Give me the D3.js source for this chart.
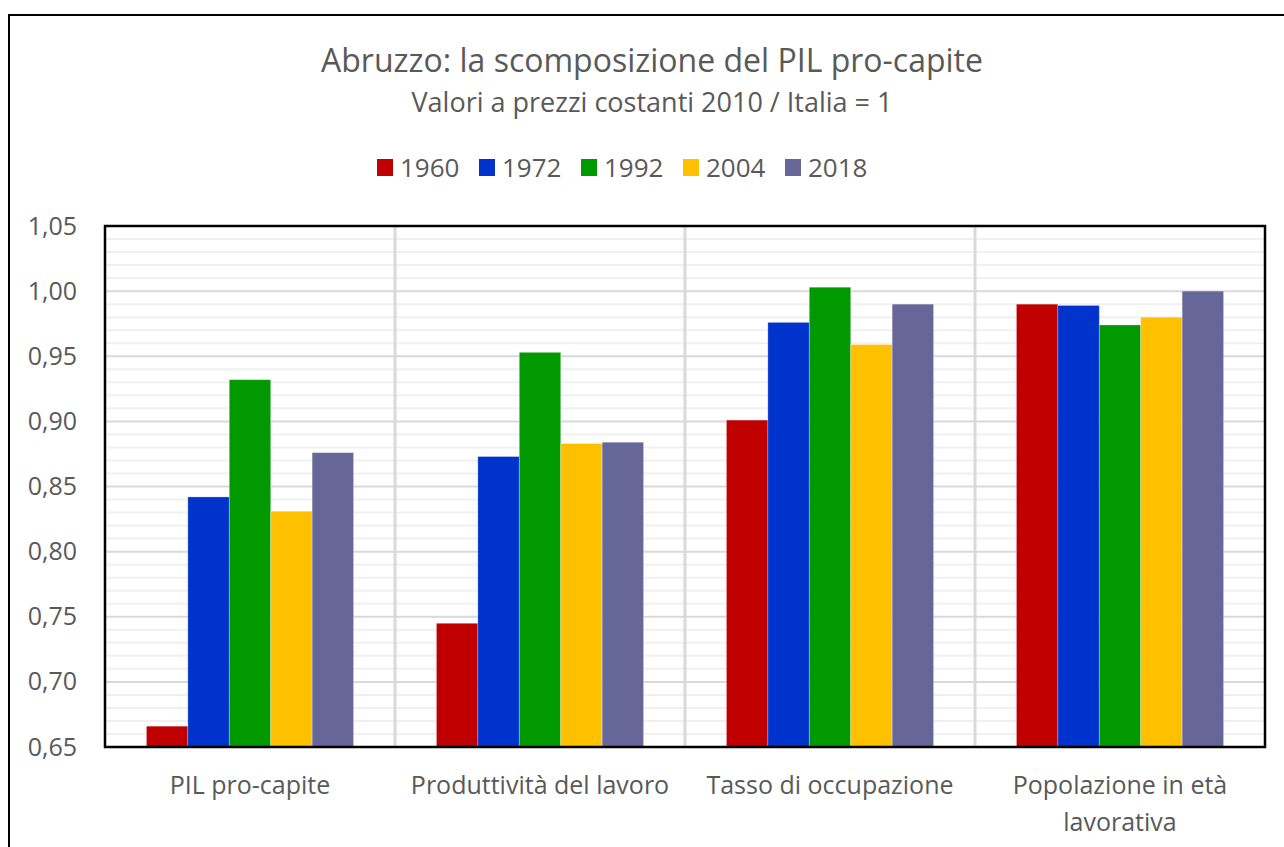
<!DOCTYPE html>
<html>
<head>
  <meta charset="utf-8">
  <style>
    body { margin: 0; background: #fff; }
    text { font-family: "Open Sans", "Noto Sans", sans-serif; fill: #595959; }
  </style>
</head>
<body>
<svg id="chart" width="1284" height="847"></svg>
<script src="https://d3js.org/d3.v7.min.js"></script>
<script>
// categories and series
var categories = ["PIL pro-capite", "Produttività del lavoro", "Tasso di occupazione", "Popolazione in età lavorativa"];
var years = ["1960", "1972", "1992", "2004", "2018"];
var colors = ["#C00000", "#0033CC", "#009900", "#FFC000", "#666699"];
var v1960 = [0.666, 0.745, 0.901, 0.990];
var v1972 = [0.842, 0.873, 0.976, 0.989];
var v1992 = [0.932, 0.953, 1.003, 0.974];
var v2004 = [0.831, 0.883, 0.959, 0.980];
var v2018 = [0.876, 0.884, 0.990, 1.000];
var yTicks = [0.65, 0.70, 0.75, 0.80, 0.85, 0.90, 0.95, 1.00, 1.05];

var series = [v1960, v1972, v1992, v2004, v2018];

var margin = {top: 226, right: 19, bottom: 100, left: 105},
    width = 1284 - margin.left - margin.right,
    height = 847 - margin.top - margin.bottom;

var svg = d3.select("#chart");

// outer chart frame
svg.append("rect")
    .attr("x", 9).attr("y", 15)
    .attr("width", 1290).attr("height", 850)
    .attr("fill", "none")
    .attr("stroke", "#000")
    .attr("stroke-width", 2);

var x0 = d3.scaleBand().domain(categories).range([0, width]);
var x1 = d3.scaleBand().domain(years).range([0, x0.bandwidth()]).paddingOuter(1);
var y = d3.scaleLinear().domain([0.65, 1.05]).range([height, 0]);
var color = d3.scaleOrdinal().domain(years).range(colors);

var g = svg.append("g")
    .attr("transform", "translate(" + margin.left + "," + margin.top + ")");

// minor gridlines every 0.01
var minor = d3.range(66, 105).map(function(d) { return d / 100; })
    .filter(function(d) { return Math.round(d * 100) % 5 !== 0; });
g.selectAll(".minor")
    .data(minor)
  .enter().append("line")
    .attr("x1", 0).attr("x2", width)
    .attr("y1", function(d) { return y(d); })
    .attr("y2", function(d) { return y(d); })
    .attr("stroke", "#f0f0f0")
    .attr("stroke-width", 2);

// major gridlines
g.selectAll(".major")
    .data(yTicks)
  .enter().append("line")
    .attr("x1", 0).attr("x2", width)
    .attr("y1", function(d) { return y(d); })
    .attr("y2", function(d) { return y(d); })
    .attr("stroke", "#d9d9d9")
    .attr("stroke-width", 2);

// vertical category separators
g.selectAll(".sep")
    .data(categories.slice(1))
  .enter().append("line")
    .attr("x1", function(d) { return x0(d); })
    .attr("x2", function(d) { return x0(d); })
    .attr("y1", 0).attr("y2", height)
    .attr("stroke", "#d9d9d9")
    .attr("stroke-width", 3);

// bars
var groups = g.selectAll(".cat")
    .data(categories)
  .enter().append("g")
    .attr("transform", function(d) { return "translate(" + x0(d) + ",0)"; });

groups.selectAll("rect")
    .data(function(d, i) {
      return years.map(function(yr, j) { return {year: yr, value: series[j][i]}; });
    })
  .enter().append("rect")
    .attr("x", function(d) { return x1(d.year); })
    .attr("width", x1.bandwidth())
    .attr("y", function(d) { return y(d.value); })
    .attr("height", function(d) { return height - y(d.value); })
    .attr("fill", function(d) { return color(d.year); })
    .attr("stroke", "rgba(255,255,255,0.35)")
    .attr("stroke-width", 0.8);

// plot frame
g.append("rect")
    .attr("x", 0).attr("y", 0)
    .attr("width", width).attr("height", height)
    .attr("fill", "none")
    .attr("stroke", "#000")
    .attr("stroke-width", 2.5);

// y axis labels
var yAxis = d3.axisLeft(y)
    .tickValues(yTicks)
    .tickSize(0)
    .tickPadding(28)
    .tickFormat(function(d) { return d3.format(".2f")(d).replace(".", ","); });

g.append("g")
    .call(yAxis)
    .call(function(a) { a.select(".domain").remove(); })
    .selectAll("text")
      .style("font-size", "25px")
      .attr("fill", "#595959");

// x axis labels (wrapped)
var xlab = g.append("g").attr("transform", "translate(0," + height + ")");
var xlines = {
  "PIL pro-capite": ["PIL pro-capite"],
  "Produttività del lavoro": ["Produttività del lavoro"],
  "Tasso di occupazione": ["Tasso di occupazione"],
  "Popolazione in età lavorativa": ["Popolazione in età", "lavorativa"]
};
categories.forEach(function(c) {
  var t = xlab.append("text")
      .attr("x", x0(c) + x0.bandwidth() / 2)
      .attr("y", 47)
      .attr("text-anchor", "middle")
      .style("font-size", "25px");
  xlines[c].forEach(function(line, i) {
    t.append("tspan")
      .attr("x", x0(c) + x0.bandwidth() / 2)
      .attr("dy", i === 0 ? 0 : 37)
      .text(line);
  });
});

// title
svg.append("text")
    .attr("x", 652).attr("y", 72)
    .attr("text-anchor", "middle")
    .style("font-size", "32px")
    .text("Abruzzo: la scomposizione del PIL pro-capite");

svg.append("text")
    .attr("x", 652).attr("y", 112)
    .attr("text-anchor", "middle")
    .style("font-size", "27px")
    .text("Valori a prezzi costanti 2010 / Italia = 1");

// legend
var legend = svg.selectAll(".legend")
    .data(years)
  .enter().append("g")
    .attr("transform", function(d, i) { return "translate(" + (377 + i * 102) + ",159)"; });

legend.append("rect")
    .attr("width", 16).attr("height", 17)
    .attr("fill", function(d) { return color(d); });

legend.append("text")
    .attr("x", 23).attr("y", 18)
    .style("font-size", "26px")
    .text(function(d) { return d; });
</script>
</body>
</html>
